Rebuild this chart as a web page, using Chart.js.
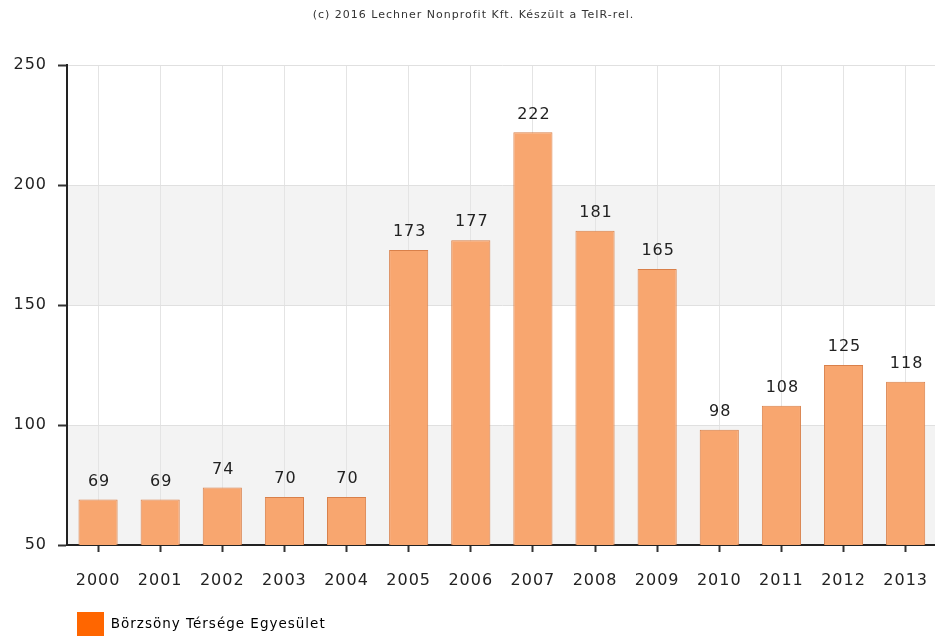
<!DOCTYPE html>
<html>
<head>
<meta charset="utf-8">
<script src="https://cdn.jsdelivr.net/npm/chart.js@4.4.0/dist/chart.umd.min.js"></script>
<style>
  html, body { margin: 0; padding: 0; background: #fff; overflow: hidden; }
  #wrap { width: 935px; height: 641px; overflow: hidden; }
</style>
</head>
<body>
<div id="wrap"><canvas id="chart" width="947" height="641"></canvas></div>
<script>
// adatok
const years = ["2000","2001","2002","2003","2004","2005","2006","2007","2008","2009","2010","2011","2012","2013"];
const values = [69, 69, 74, 70, 70, 173, 177, 222, 181, 165, 98, 108, 125, 118];
const yTicks = [50, 100, 150, 200, 250];
const seriesName = "Börzsöny Térsége Egyesület";
const titleText = "(c) 2016 Lechner Nonprofit Kft. Készült a TeIR-rel.";

// szurke savok 50-100 es 150-200 kozott
const bands = [[50, 100], [150, 200]];

const spacingPlugin = {
  id: "spacing",
  // betukoz, mint az eredetin (a canvas atmeretezes torli, ezert mindig ujra)
  beforeUpdate(chart) { chart.ctx.letterSpacing = "1px"; },
  beforeLayout(chart) { chart.ctx.letterSpacing = "1px"; },
  beforeDraw(chart) { chart.ctx.letterSpacing = "1px"; }
};

const bandPlugin = {
  id: "bands",
  beforeDraw(chart) {
    let ctx = chart.ctx;
    let y = chart.scales.y;
    let a = chart.chartArea;
    ctx.save();
    ctx.fillStyle = "#f3f3f3";
    bands.forEach(b => {
      let top = y.getPixelForValue(b[1]);
      let bot = y.getPixelForValue(b[0]);
      ctx.fillRect(a.left, top, a.right - a.left, bot - top);
    });
    ctx.restore();
  }
};

const labelPlugin = {
  id: "valueLabels",
  afterDatasetsDraw(chart) {
    let ctx = chart.ctx;
    let meta = chart.getDatasetMeta(0);
    ctx.save();
    ctx.font = "16px 'DejaVu Sans'";
    ctx.fillStyle = "#222";
    ctx.textAlign = "center";
    ctx.textBaseline = "bottom";
    meta.data.forEach((bar, i) => {
      ctx.fillText(values[i], bar.x + 1, bar.y - 10);
    });
    ctx.restore();
  }
};

const chartX = document.getElementById("chart").getContext("2d");
const config = new Chart(chartX, {
  type: "bar",
  data: {
    labels: years,
    datasets: [{
      label: seriesName,
      data: values,
      backgroundColor: "#f8a66f",
      borderColor: "#d9804a",
      borderWidth: 1,
      barPercentage: 0.63,
      categoryPercentage: 1
    }]
  },
  options: {
    responsive: false,
    animation: false,
    layout: { padding: { left: 0, right: 0, top: 0, bottom: -5 } },
    plugins: {
      tooltip: { enabled: false },
      title: {
        display: true,
        text: titleText,
        color: "#333",
        font: { family: "'DejaVu Sans'", size: 11, weight: "normal" },
        padding: { top: 9, bottom: 43 }
      },
      legend: {
        position: "bottom",
        align: "start",
        fullSize: false,
        labels: {
          boxWidth: 27,
          boxHeight: 24,
          padding: 10,
          color: "#222",
          font: { family: "'DejaVu Sans'", size: 13.5 },
          generateLabels(chart) {
            return [{
              text: seriesName,
              fillStyle: "#ff6600",
              strokeStyle: "#ff6600",
              lineWidth: 0,
              datasetIndex: 0
            }];
          }
        }
      }
    },
    scales: {
      x: {
        offset: true,
        grid: {
          offset: false,
          color: "#e4e4e4",
          lineWidth: 1,
          tickLength: 7,
          tickColor: "#333",
          tickWidth: 2
        },
        border: { color: "#222", width: 2 },
        ticks: {
          color: "#222",
          padding: 19,
          maxRotation: 0,
          font: { family: "'DejaVu Sans'", size: 16 }
        },
        afterFit(scale) { scale.height = 57; }
      },
      y: {
        min: 50,
        max: 250,
        afterBuildTicks(scale) { scale.ticks = yTicks.map(v => ({ value: v })); },
        grid: {
          color: "#e0e0e0",
          lineWidth: 1,
          tickLength: 9,
          tickColor: "#333",
          tickWidth: 2
        },
        border: { color: "#222", width: 2 },
        ticks: {
          color: "#222",
          padding: 11,
          font: { family: "'DejaVu Sans'", size: 16 }
        },
        afterFit(scale) { scale.width = 67; }
      }
    }
  },
  plugins: [spacingPlugin, bandPlugin, labelPlugin]
});
</script>
</body>
</html>
